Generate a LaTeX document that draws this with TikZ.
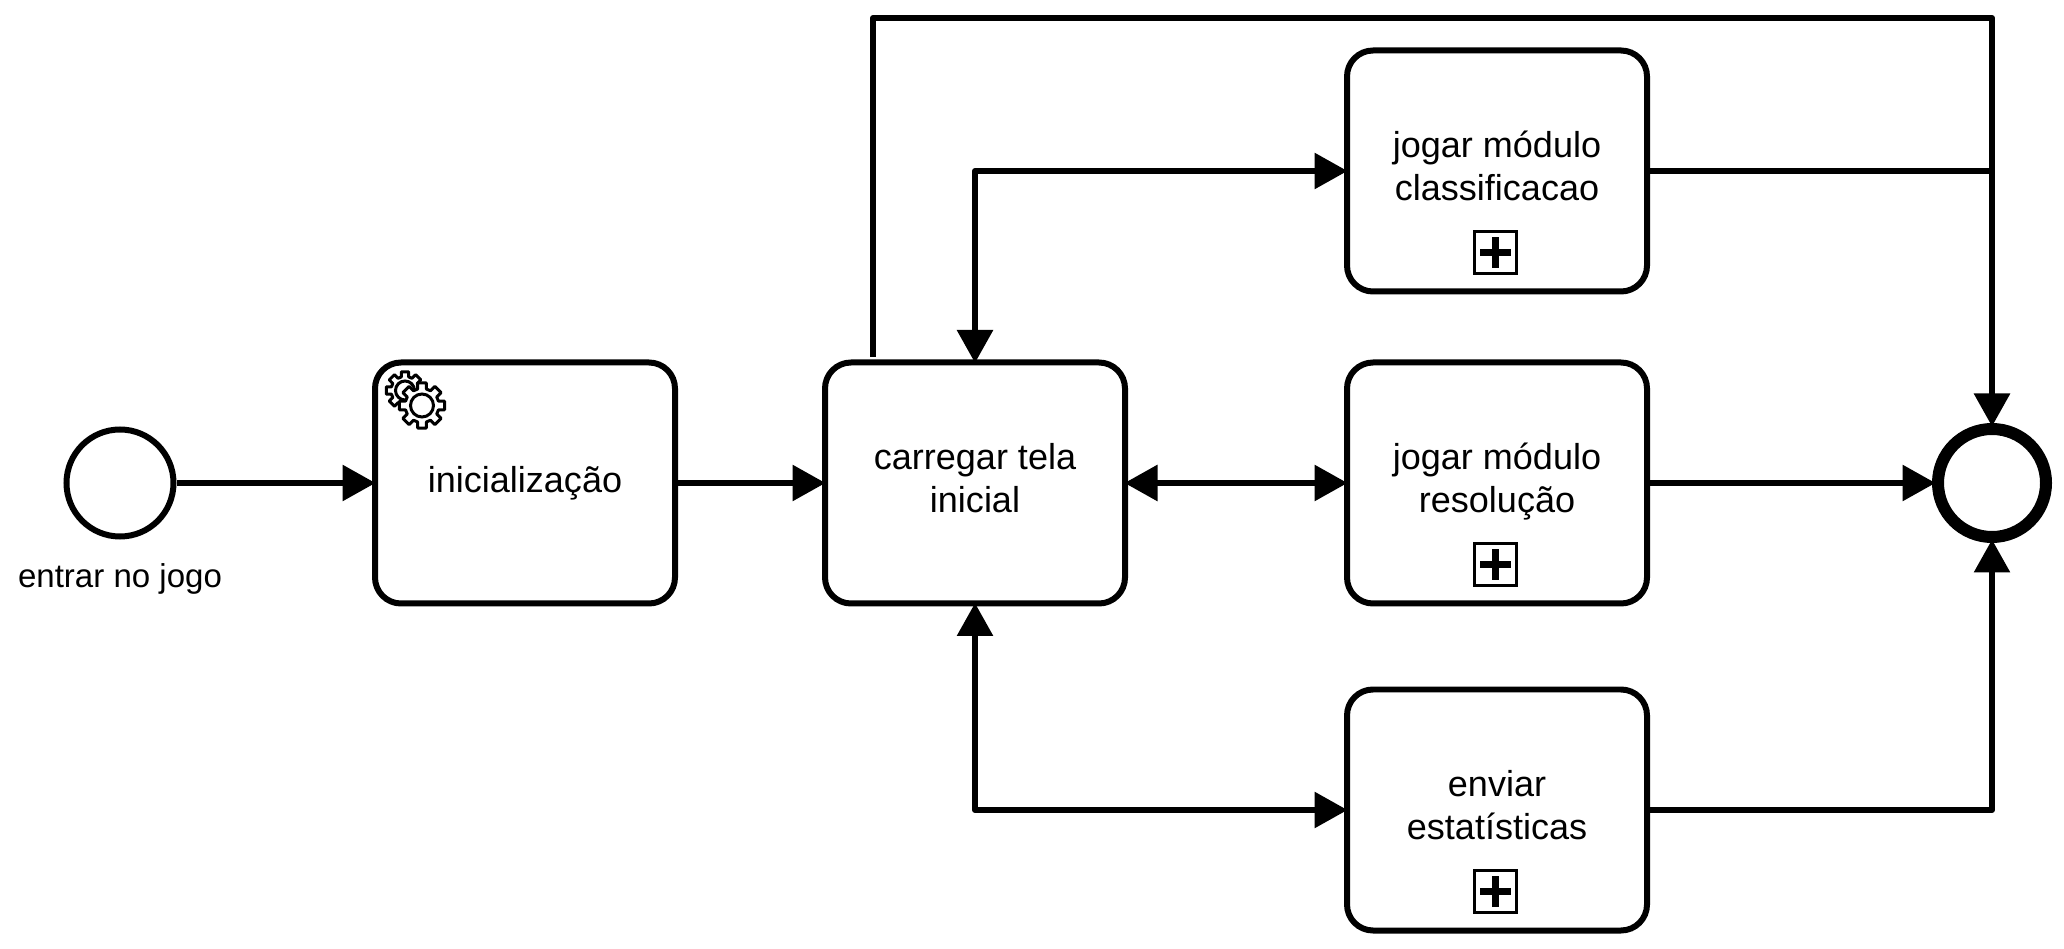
\documentclass[tikz,border=0pt]{standalone}
\usepackage{fontspec}
\setmainfont{Liberation Sans}
\usetikzlibrary{arrows.meta, positioning, calc}
\tikzset{
  task/.style={draw, line width=0.12cm, rounded corners=0.52cm, align=center, minimum width=6cm, minimum height=4.82cm, inner sep=0pt, font=\fontsize{20.5}{24.5}\selectfont},
  tasktwo/.style={task, execute at begin node=\rule{0pt}{26pt}, execute at end node=\rule[-6.1pt]{0pt}{6.1pt}},
  start/.style={circle, draw, line width=0.12cm, minimum size=2.14cm, inner sep=0pt},
  finish/.style={circle, draw, line width=0.24cm, minimum size=2.16cm, inner sep=0pt},
  note/.style={font=\fontsize{18.8}{22}\selectfont},
  flow/.style={line width=0.12cm, line join=round, shorten >=-0.07cm, -{Triangle[length=0.66cm, width=0.70cm]}},
  flowboth/.style={line width=0.12cm, line join=round, shorten >=-0.07cm, shorten <=-0.07cm, {Triangle[length=0.66cm, width=0.70cm]}-{Triangle[length=0.66cm, width=0.70cm]}},
  plain/.style={line width=0.12cm, line join=round},
  plusbox/.style={draw, line width=0.06cm, minimum size=0.84cm, inner sep=0pt, path picture={
    \draw[line width=0.14cm] ([xshift=-0.31cm]path picture bounding box.center) -- ([xshift=0.31cm]path picture bounding box.center);
    \draw[line width=0.14cm] ([yshift=-0.31cm]path picture bounding box.center) -- ([yshift=0.31cm]path picture bounding box.center);
  }},
  gear/.pic={
    \draw[line width=0.06cm, fill=white, line join=round] (-11:#1)
      foreach \a in {0,45,...,315} { -- (\a-11:#1) -- (\a+11:#1) -- (\a+15:0.74*#1) -- (\a+30:0.74*#1) } -- cycle;
    \draw[line width=0.06cm] (0,0) circle (0.5*#1);
  },
}
\begin{document}
\begin{tikzpicture}
  \useasboundingbox (0,0) rectangle (41.28,18.96);
  % events
  \node[start] (begin) at (2.40,9.30) {};
  \node[note] (beginlabel) at (2.40,7.38) {entrar no jogo};
  \node[finish] (end) at (39.84,9.30) {};
  % tasks
  \node[task] (ini) at (10.50,9.30) {inicialização};
  \node[tasktwo] (car) at (19.50,9.30) {carregar tela\\inicial};
  \node[tasktwo] (cls) at (29.94,15.54) {jogar módulo\\classificacao};
  \node[tasktwo] (res) at (29.94,9.30) {jogar módulo\\resolução};
  \node[tasktwo] (env) at (29.94,2.76) {enviar\\estatísticas};
  % markers
  \foreach \b in {cls,res,env} {
    \node[plusbox] (\b plus) at ($(\b.center)+(-0.03,-1.63)$) {};
  }
  \pic at ($(ini.north west)+(0.66,-0.62)$) {gear=0.38};
  \pic at ($(ini.north west)+(1.00,-0.92)$) {gear=0.46};
  % flows
  \draw[flow] (begin) -- (ini);
  \draw[flow] (ini) -- (car);
  \draw[flowboth] (car) -- (res);
  \draw[flowboth] (car.north) |- (cls.west);
  \draw[flowboth] (car.south) |- (env.west);
  \draw[flow] (res) -- (end);
  \draw[plain] (cls) -- (cls -| end);
  \draw[flow] (env) -| (end.south);
  \coordinate (topstart) at (17.46,11.82);
  \coordinate (topright) at (39.84,18.60);
  \draw[flow] (topstart) |- (topright) -- (end.north);
\end{tikzpicture}
\end{document}
